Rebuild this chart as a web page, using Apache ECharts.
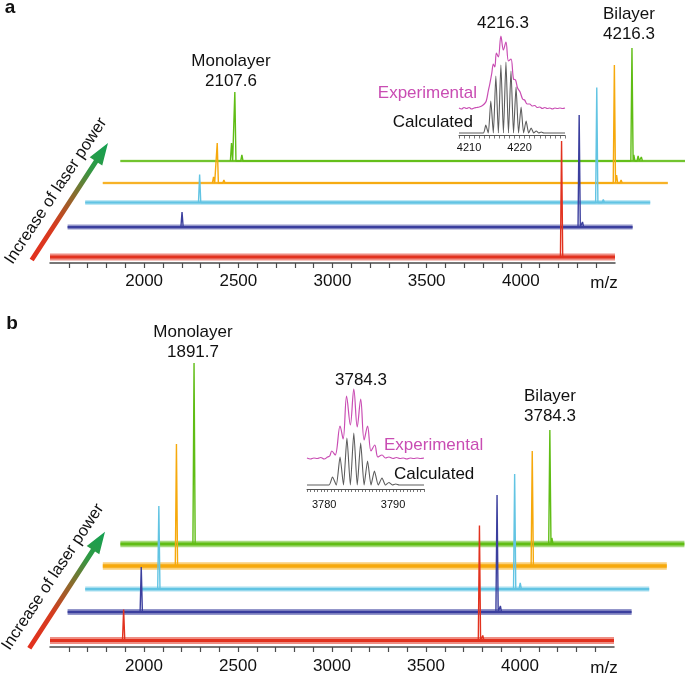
<!DOCTYPE html>
<html><head><meta charset="utf-8">
<script src="https://cdn.jsdelivr.net/npm/echarts@6/dist/echarts.min.js"></script>
<style>html,body{margin:0;padding:0;background:#fff}#c{width:685px;height:674px}</style>
</head><body><div id="c"></div>
<script>
// ---------------- DATA ----------------
const mzRange = [1500, 4500];
const mainTicks = [1600,1700,1800,1900,2000,2100,2200,2300,2400,2500,2600,2700,2800,2900,3000,3100,3200,3300,3400,3500,3600,3700,3800,3900,4000,4100,4200,4300,4400];
const mainTickLabels = [2000, 2500, 3000, 3500, 4000];
const traceNames = ['Laser power 1', 'Laser power 2', 'Laser power 3', 'Laser power 4', 'Laser power 5'];

// panel a : peaks per trace [m/z, intensity]
const peaksA = [
  [[4216.3, 116]],
  [[2107.6, 15], [4216.3, 112], [4234, 5]],
  [[2107.6, 28], [4216.3, 115], [4251, 3]],
  [[2088, 6], [2107.6, 40], [2143, 3], [4216.3, 118], [4228, 8], [4252, 3]],
  [[2090, 18], [2107.6, 69], [2145, 6], [4216.3, 113], [4226, 6], [4249, 5], [4266, 4]]
];
// panel b
const peaksB = [
  [[1891.7, 31], [3784.3, 115], [3802, 5]],
  [[1891.7, 45], [3784.3, 117], [3802, 6]],
  [[1891.7, 83], [3784.3, 115], [3814, 6]],
  [[1891.7, 122], [3784.3, 115]],
  [[1891.7, 181], [3784.3, 114], [3795, 6]]
];

// inset a (isotope pattern of bilayer 4216.3)
const insetARange = [4208, 4229];
const insetATicks = [4208,4209,4210,4211,4212,4213,4214,4215,4216,4217,4218,4219,4220,4221,4222,4223,4224,4225,4226,4227,4228,4229];
const insetALabels = [4210, 4220];
const calcA = [[4208,0],[4212.8,0],[4213.3,8],[4213.8,0],[4214.3,32],[4214.8,0],[4215.3,57],[4215.8,0],[4216.3,68],[4216.8,0],[4217.3,71],[4217.8,0],[4218.3,62],[4218.8,0],[4219.3,46],[4219.8,0],[4220.3,26],[4220.8,0],[4221.3,12],[4221.8,0],[4222.3,5],[4222.8,0],[4223.3,2],[4223.8,0],[4224.3,1],[4224.8,0],[4229,0]];
const expA = [[4208,1],[4208.5,0],[4209,1.5],[4209.5,0.5],[4210,1.5],[4210.5,0],[4211,1],[4211.5,1.5],[4212,2],[4212.5,3],[4213,5],[4213.4,8],[4213.8,18],[4214.1,25],[4214.5,36],[4214.8,45],[4215.1,42],[4215.4,56],[4215.8,52],[4216.3,73],[4216.8,59],[4217.3,67],[4217.8,48],[4218.3,50],[4218.8,30],[4219.2,29],[4219.6,21],[4220.1,17],[4220.6,10],[4221,9],[4221.5,5],[4222,5],[4222.5,3],[4223,3.5],[4223.5,1.5],[4224,2],[4224.5,0.5],[4225,1.5],[4225.5,0.5],[4226,1],[4226.5,0],[4227,1],[4227.5,0.5],[4228,1],[4228.5,0.5],[4229,1]];

// inset b (isotope pattern of bilayer 3784.3)
const insetBRange = [3777.5, 3794.5];
const insetBTicks = [3777.5,3778,3778.5,3779,3779.5,3780,3780.5,3781,3781.5,3782,3782.5,3783,3783.5,3784,3784.5,3785,3785.5,3786,3786.5,3787,3787.5,3788,3788.5,3789,3789.5,3790,3790.5,3791,3791.5,3792,3792.5,3793,3793.5,3794,3794.5];
const insetBLabels = [3780, 3790];
const calcB = [[3777.5,0],[3780.7,0],[3781.2,8],[3781.75,0],[3782.3,28],[3782.8,0],[3783.3,47],[3783.8,0],[3784.3,52],[3784.8,0],[3785.3,42],[3785.8,0],[3786.3,24],[3786.8,0],[3787.3,14],[3787.85,0],[3788.4,7],[3788.9,0],[3789.4,2.5],[3789.9,0],[3790.4,1],[3790.9,0],[3794.5,0]];
const expB = [[3777.5,1],[3778,0],[3778.5,1],[3779,0.5],[3779.5,1.5],[3780,0],[3780.5,2],[3780.8,3],[3781.1,8],[3781.6,4],[3782.3,33],[3782.75,20],[3783.25,63],[3783.8,34],[3784.3,70],[3784.8,32],[3785.3,60],[3785.8,19],[3786.3,33],[3786.8,8],[3787.35,14],[3787.8,2],[3788.4,4],[3788.9,1],[3789.4,2],[3790,0.5],[3790.5,1.5],[3791,0.5],[3791.5,1],[3792,0],[3792.5,1],[3793,0.5],[3793.5,1],[3794,0.5],[3794.5,1]];

// ---------------- STYLE / LAYOUT ----------------
const FONT = '"Liberation Sans", Arial, Helvetica, sans-serif';
const colors = ['#e2321f', '#3b3f9e', '#62c4e3', '#f6a90c', '#60bd15'];
const magenta = '#c94db3';
const gray = '#5c5c5c';
const axisColor = '#4a4a4a';
const plain = v => String(v);

const layoutA = { baselines: [257, 227, 202.5, 183, 161], left0: 50, dx: 17.6, width: 565, yMax: 130, bands: [7, 5, 4.5, 2.6, 2.6], axisOffset: 6, labelMargin: 10 };
const layoutB = { baselines: [640.5, 612, 589, 566, 544], left0: 50, dx: 17.6, width: 564, yMax: 190, bands: [7, 6, 5, 7.5, 6.5], axisOffset: 6.5, labelMargin: 11 };

const grids = [], xAxes = [], yAxes = [], series = [];

function spikeLine(peaks) {
  const out = [];
  peaks.forEach(p => { out.push([p[0] - 6, 0], [p[0], p[1]], [p[0] + 6, 0]); });
  return out;
}

function addPanel(peaks, L) {
  const startIdx = grids.length;
  for (let i = 0; i < 5; i++) {
    const gi = grids.length;
    grids.push({ left: L.left0 + L.dx * i, top: L.baselines[i] - L.yMax, width: L.width, height: L.yMax, outerBoundsMode: 'none' });
    const main = i === 0;
    xAxes.push({
      gridIndex: gi, type: 'value', min: mzRange[0], max: mzRange[1], show: main,
      offset: main ? L.axisOffset : 0,
      splitLine: { show: false },
      axisLine: { show: main, onZero: false, lineStyle: { color: axisColor, width: 1.5 } },
      axisTick: { show: main, customValues: mainTicks, length: 5, lineStyle: { color: axisColor, width: 1.2 } },
      axisLabel: { show: main, customValues: mainTickLabels, formatter: plain, fontSize: 17, fontFamily: FONT, color: '#111', margin: L.labelMargin }
    });
    yAxes.push({ gridIndex: gi, type: 'value', min: 0, max: L.yMax, show: false, splitLine: { show: false } });
  }
  for (let i = 4; i >= 0; i--) {
    const gi = startIdx + i;
    series.push({
      name: traceNames[i] + ' noise', type: 'line', xAxisIndex: gi, yAxisIndex: gi, clip: false,
      data: [[mzRange[0], 0], [mzRange[1], 0]], symbol: 'none', silent: true,
      lineStyle: { color: colors[i], width: L.bands[i], opacity: 0.55 }, z: 2 + (4 - i)
    });
    series.push({
      name: traceNames[i] + ' baseline', type: 'line', xAxisIndex: gi, yAxisIndex: gi, clip: false,
      data: [[mzRange[0], 0], [mzRange[1], 0]], symbol: 'none', silent: true,
      lineStyle: { color: colors[i], width: Math.max(1.5, L.bands[i] * 0.45), opacity: 1 }, z: 2 + (4 - i)
    });
    series.push({
      name: traceNames[i], type: 'line', xAxisIndex: gi, yAxisIndex: gi, clip: false,
      data: spikeLine(peaks[i]), symbol: 'none', silent: true,
      lineStyle: { color: colors[i], width: 1.4 }, z: 3 + (4 - i)
    });
  }
}
addPanel(peaksA, layoutA);
addPanel(peaksB, layoutB);

function addInset(range, ticks, labels, calc, exp, box) {
  let gi = grids.length;
  grids.push({ left: box.left, width: box.width, top: box.expBase - box.expMax, height: box.expMax, outerBoundsMode: 'none' });
  xAxes.push({ gridIndex: gi, type: 'value', min: range[0], max: range[1], show: false });
  yAxes.push({ gridIndex: gi, type: 'value', min: 0, max: box.expMax, show: false });
  series.push({ name: 'Experimental', type: 'line', xAxisIndex: gi, yAxisIndex: gi, data: exp, symbol: 'none', smooth: 0.35, clip: false,
    lineStyle: { color: magenta, width: 1.2 }, z: 20 });
  gi = grids.length;
  grids.push({ left: box.left, width: box.width, top: box.calcBase - box.calcMax, height: box.calcMax + box.axisGap, outerBoundsMode: 'none' });
  xAxes.push({ gridIndex: gi, type: 'value', min: range[0], max: range[1], show: true,
    splitLine: { show: false },
    axisLine: { show: true, onZero: false, lineStyle: { color: '#555', width: 1 } },
    axisTick: { show: true, customValues: ticks, length: 3, lineStyle: { color: '#555', width: 0.8 } },
    axisLabel: { show: true, customValues: labels, formatter: plain, fontSize: 11, fontFamily: FONT, color: '#111', margin: box.labelMargin } });
  yAxes.push({ gridIndex: gi, type: 'value', min: -box.axisGap, max: box.calcMax, show: false });
  series.push({ name: 'Calculated', type: 'line', xAxisIndex: gi, yAxisIndex: gi, data: calc, symbol: 'none', smooth: 0.2, clip: false,
    lineStyle: { color: gray, width: 1.1 }, z: 21 });
}
addInset(insetARange, insetATicks, insetALabels, calcA, expA, { left: 459, width: 106, expBase: 109, expMax: 76, calcBase: 133, calcMax: 73, axisGap: 2.5, labelMargin: 7 });
addInset(insetBRange, insetBTicks, insetBLabels, calcB, expB, { left: 307, width: 117, expBase: 459, expMax: 72, calcBase: 485, calcMax: 55, axisGap: 4, labelMargin: 10 });

// ---------------- ANNOTATIONS ----------------
function txt(x, y, text, opts) {
  opts = opts || {};
  return { type: 'text', x: x, y: y, rotation: opts.rotation || 0, z: 50,
    style: { text: text, fill: opts.color || '#111', font: (opts.weight || 'normal') + ' ' + (opts.size || 17) + 'px ' + FONT,
      textAlign: opts.align || 'center', textVerticalAlign: 'middle' } };
}
function arrow(t, p) {
  const dx = p[0] - t[0], dy = p[1] - t[1], len = Math.hypot(dx, dy);
  const ux = dx / len, uy = dy / len, nx = -uy, ny = ux;
  const sw = 2.4, hw = 7.5, hl = 22;
  const s = [p[0] - ux * hl, p[1] - uy * hl];
  const pts = [
    [t[0] + nx * sw, t[1] + ny * sw], [s[0] + nx * sw, s[1] + ny * sw], [s[0] + nx * hw, s[1] + ny * hw], p,
    [s[0] - nx * hw, s[1] - ny * hw], [s[0] - nx * sw, s[1] - ny * sw], [t[0] - nx * sw, t[1] - ny * sw]
  ];
  return { type: 'polygon', z: 40, shape: { points: pts },
    style: { fill: new echarts.graphic.LinearGradient(t[0], t[1], p[0], p[1], [
      { offset: 0, color: '#e3301e' }, { offset: 0.3, color: '#d53c1f' }, { offset: 0.55, color: '#8c6a2c' },
      { offset: 0.78, color: '#2f9a44' }, { offset: 1, color: '#14a052' }], true) } };
}
const rot = 56.5 * Math.PI / 180;
const graphics = [
  txt(10, 8, 'a', { weight: 'bold', size: 19 }),
  txt(231, 61, 'Monolayer'), txt(231, 81, '2107.6'),
  txt(503, 23, '4216.3'),
  txt(629, 14, 'Bilayer'), txt(629, 34, '4216.3'),
  txt(477, 93, 'Experimental', { color: magenta, align: 'right' }),
  txt(473, 122, 'Calculated', { align: 'right' }),
  txt(604, 283, 'm/z'),
  arrow([31.7, 260], [108, 143]),
  txt(56, 191, 'Increase of laser power', { rotation: rot, size: 16.5 }),

  txt(12, 324, 'b', { weight: 'bold', size: 19 }),
  txt(193, 332, 'Monolayer'), txt(193, 352, '1891.7'),
  txt(361, 380, '3784.3'),
  txt(550, 396, 'Bilayer'), txt(550, 416, '3784.3'),
  txt(384, 445, 'Experimental', { color: magenta, align: 'left' }),
  txt(394, 474, 'Calculated', { align: 'left' }),
  txt(604, 668, 'm/z'),
  arrow([29.3, 648.3], [105, 531.7]),
  txt(53, 577, 'Increase of laser power', { rotation: rot, size: 16.5 })
];

const chart = echarts.init(document.getElementById('c'), null, { renderer: 'canvas' });
chart.setOption({
  animation: false,
  backgroundColor: '#fff',
  grid: grids, xAxis: xAxes, yAxis: yAxes, series: series,
  graphic: { elements: graphics }
});
</script></body></html>
